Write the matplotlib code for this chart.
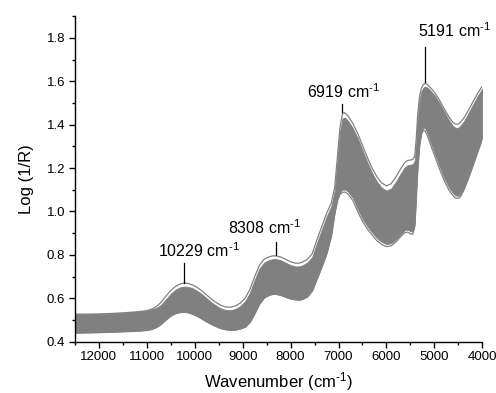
import matplotlib
matplotlib.use('Agg')
import matplotlib.pyplot as plt
from matplotlib.ticker import MultipleLocator
import numpy as np

plt.rcParams['font.family'] = ['Liberation Sans', 'DejaVu Sans']
plt.rcParams['mathtext.fontset'] = 'custom'
plt.rcParams['mathtext.rm'] = 'Liberation Sans'
plt.rcParams['mathtext.it'] = 'Liberation Sans:italic'
plt.rcParams['mathtext.bf'] = 'Liberation Sans:bold'

# wavenumbers (cm-1) where the spectra were read
wn = [12500, 12250, 12000, 11750, 11500, 11250, 11000, 10900, 10800, 10700,
      10600, 10500, 10400, 10300, 10229, 10150, 10050, 9950, 9850, 9750,
      9650, 9550, 9450, 9350, 9250, 9150, 9050, 8950, 8850, 8750,
      8650, 8550, 8450, 8380, 8308, 8200, 8100, 8000, 7900, 7820,
      7750, 7650, 7550, 7450, 7350, 7250, 7150, 7080, 7020, 6970,
      6919, 6870, 6800, 6700, 6600, 6500, 6400, 6300, 6200, 6100,
      6000, 5900, 5800, 5700, 5620, 5560, 5500, 5450, 5410, 5380,
      5350, 5310, 5270, 5230, 5191, 5150, 5100, 5000, 4900, 4800,
      4700, 4620, 4560, 4500, 4450, 4380, 4300, 4200, 4100, 4000]

# highest spectrum
top_line = [0.527, 0.527, 0.528, 0.530, 0.533, 0.537, 0.543, 0.550, 0.562, 0.582,
            0.610, 0.636, 0.655, 0.666, 0.670, 0.669, 0.662, 0.650, 0.634, 0.615,
            0.596, 0.580, 0.567, 0.560, 0.559, 0.565, 0.578, 0.600, 0.640, 0.700,
            0.752, 0.780, 0.791, 0.795, 0.796, 0.790, 0.779, 0.768, 0.762, 0.762,
            0.767, 0.780, 0.805, 0.870, 0.930, 0.990, 1.040, 1.110, 1.260, 1.385,
            1.450, 1.455, 1.440, 1.405, 1.360, 1.305, 1.250, 1.200, 1.160, 1.132,
            1.118, 1.128, 1.160, 1.198, 1.225, 1.235, 1.237, 1.240, 1.255, 1.330,
            1.440, 1.530, 1.568, 1.585, 1.590, 1.585, 1.575, 1.550, 1.515, 1.475,
            1.437, 1.412, 1.402, 1.403, 1.412, 1.432, 1.462, 1.503, 1.543, 1.578]

# top of the dense bundle
band_top = [0.527, 0.527, 0.528, 0.530, 0.533, 0.537, 0.543, 0.549, 0.556, 0.570,
            0.596, 0.621, 0.640, 0.651, 0.654, 0.653, 0.647, 0.635, 0.619, 0.600,
            0.581, 0.566, 0.553, 0.546, 0.545, 0.551, 0.564, 0.586, 0.625, 0.685,
            0.737, 0.765, 0.776, 0.780, 0.781, 0.775, 0.764, 0.753, 0.747, 0.747,
            0.752, 0.765, 0.790, 0.855, 0.915, 0.975, 1.025, 1.095, 1.240, 1.365,
            1.428, 1.433, 1.418, 1.383, 1.338, 1.283, 1.228, 1.178, 1.138, 1.110,
            1.096, 1.106, 1.138, 1.176, 1.203, 1.213, 1.215, 1.218, 1.233, 1.310,
            1.422, 1.514, 1.553, 1.571, 1.576, 1.571, 1.561, 1.536, 1.501, 1.461,
            1.422, 1.396, 1.385, 1.386, 1.396, 1.417, 1.448, 1.490, 1.531, 1.566]

# bottom of the dense bundle
band_low = [0.441, 0.442, 0.443, 0.445, 0.447, 0.449, 0.453, 0.458, 0.467, 0.482,
            0.502, 0.520, 0.531, 0.536, 0.537, 0.535, 0.528, 0.518, 0.505, 0.492,
            0.480, 0.470, 0.461, 0.456, 0.454, 0.455, 0.460, 0.468, 0.490, 0.530,
            0.575, 0.603, 0.615, 0.619, 0.620, 0.614, 0.605, 0.598, 0.594, 0.593,
            0.596, 0.608, 0.635, 0.690, 0.745, 0.805, 0.890, 0.997, 1.062, 1.090,
            1.100, 1.102, 1.092, 1.062, 1.012, 0.967, 0.932, 0.904, 0.878, 0.860,
            0.850, 0.854, 0.872, 0.897, 0.914, 0.917, 0.909, 0.907, 0.942, 1.072,
            1.202, 1.312, 1.367, 1.387, 1.382, 1.362, 1.332, 1.272, 1.212, 1.157,
            1.112, 1.087, 1.074, 1.072, 1.082, 1.112, 1.157, 1.217, 1.282, 1.342]

# lowest spectrum
low_line = [0.441, 0.442, 0.443, 0.445, 0.447, 0.449, 0.453, 0.458, 0.467, 0.482,
            0.502, 0.520, 0.531, 0.536, 0.537, 0.535, 0.528, 0.518, 0.505, 0.492,
            0.480, 0.470, 0.461, 0.456, 0.454, 0.455, 0.460, 0.468, 0.490, 0.530,
            0.575, 0.603, 0.615, 0.619, 0.620, 0.614, 0.605, 0.598, 0.594, 0.593,
            0.596, 0.608, 0.635, 0.690, 0.745, 0.805, 0.890, 0.985, 1.050, 1.078,
            1.088, 1.090, 1.080, 1.050, 1.000, 0.955, 0.920, 0.892, 0.866, 0.848,
            0.838, 0.842, 0.860, 0.885, 0.902, 0.905, 0.897, 0.895, 0.930, 1.060,
            1.190, 1.300, 1.355, 1.375, 1.370, 1.350, 1.320, 1.260, 1.200, 1.145,
            1.100, 1.075, 1.062, 1.060, 1.070, 1.100, 1.145, 1.205, 1.270, 1.330]

peaks = [10229, 8308, 6919, 5191]
peak_labels = [r'10229 cm$^{\text{-}1}$', r'8308 cm$^{\text{-}1}$',
               r'6919 cm$^{\text{-}1}$', r'5191 cm$^{\text{-}1}$']

gray = '#808080'

fig = plt.figure(figsize=(4.96, 3.93), dpi=100)
ax = fig.add_axes([0.151, 0.1305, 0.8214, 0.8285])

ax.fill_between(wn, band_low, band_top, color=gray, lw=0.6, edgecolor=gray)
ax.plot(wn, top_line, color=gray, lw=0.9)
ax.plot(wn, low_line, color=gray, lw=0.9)

# peak markers: (line bottom, line top, text x, text y)
marks = [(0.672, 0.762, 9922, 0.792),
         (0.798, 0.861, 8554, 0.896),
         (1.457, 1.495, 6905, 1.522),
         (1.598, 1.759, 4588, 1.803)]
for p, lab, (y0, y1, tx, ty) in zip(peaks, peak_labels, marks):
    ax.plot([p, p], [y0, y1], color='black', lw=0.9)
    ax.text(tx, ty, lab, ha='center', va='baseline', fontsize=11.5, clip_on=False)

ax.set_xlim(12500, 4000)
ax.set_ylim(0.4, 1.9)
ax.xaxis.set_minor_locator(MultipleLocator(500))
ax.yaxis.set_minor_locator(MultipleLocator(0.1))
ax.set_xticks(np.arange(12000, 3999, -1000))
ax.set_yticks(np.arange(0.4, 1.81, 0.2))

ax.spines['top'].set_visible(False)
ax.spines['right'].set_visible(False)
for s in ['left', 'bottom']:
    ax.spines[s].set_linewidth(1.0)
ax.tick_params(which='major', direction='out', length=4.5, width=1.0, labelsize=9.5, pad=2.5)
ax.tick_params(which='minor', direction='out', length=2.5, width=1.0)

ax.set_xlabel(r'Wavenumber (cm$^{\text{-}1}$)', fontsize=12, labelpad=5)
ax.set_ylabel('Log (1/R)', fontsize=12, labelpad=9)

fig.savefig('out.png', dpi=100)
